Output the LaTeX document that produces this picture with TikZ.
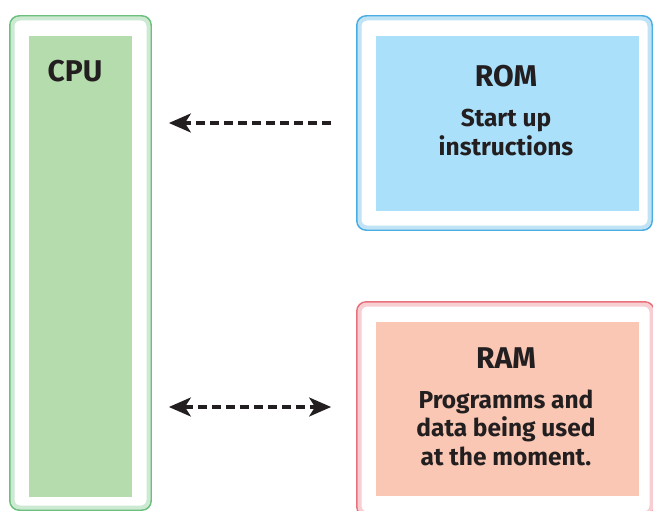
\documentclass[tikz,border=0pt]{standalone}
\usepackage{fontspec}
\setmainfont{Fira Sans}
\usepackage{tikz}
\usetikzlibrary{arrows.meta}

\definecolor{cpuline}{HTML}{6DBF7E}
\definecolor{cpufill}{HTML}{B5DCAD}
\definecolor{romline}{HTML}{4AAEE2}
\definecolor{romfill}{HTML}{AAE0FA}
\definecolor{ramline}{HTML}{E8727C}
\definecolor{ramfill}{HTML}{F9C7B3}
\definecolor{ink}{HTML}{231F20}

\tikzset{
	outerbox/.style={draw=#1, fill=white, line width=1.8pt, rounded corners=9pt, inner sep=0pt},
	glowring/.style={draw=#1!35, line width=4pt, rounded corners=7.5pt, inner sep=0pt},
	innerbox/.style={fill=#1, draw=none, inner sep=0pt},
	boxtext/.style={text=ink, font=\bfseries\fontsize{24.5}{28.5}\selectfont, align=center},
	boxtitle/.style={text=ink, font=\bfseries\fontsize{30}{32}\selectfont},
	busline/.style={ink, line width=3.2pt, dash pattern=on 9pt off 5pt},
	bustip/.tip={Stealth[length=22pt, width=19pt, inset=6pt]},
}

\begin{document}
\begin{tikzpicture}[x=1pt, y=-1pt]
	\useasboundingbox (0,0) rectangle (653,511);
	% CPU
	\node (cpu) [outerbox=cpuline, minimum width=141pt, minimum height=494pt] at (80.5,263) {};
	\node (cpuglow) [glowring=cpuline, minimum width=136pt, minimum height=489pt] at (cpu) {};
	\node (cpuin) [innerbox=cpufill, minimum width=103pt, minimum height=461pt] at (80.5,266.5) {};
	\node (cpulabel) [boxtitle] at (75,71) {CPU};
	% ROM
	\node (rom) [outerbox=romline, minimum width=295pt, minimum height=214pt] at (504.5,123) {};
	\node (romglow) [glowring=romline, minimum width=290pt, minimum height=209pt] at (rom) {};
	\node (romin) [innerbox=romfill, minimum width=263pt, minimum height=175pt] at (507.5,123.5) {};
	\node (romlabel) [boxtitle] at (506,76) {ROM};
	\node (romtext) [boxtext, anchor=base] at (506,155) {Start up\\instructions};
	% RAM
	\node (ram) [outerbox=ramline, minimum width=297pt, minimum height=214pt] at (505.5,409) {};
	\node (ramglow) [glowring=ramline, minimum width=292pt, minimum height=209pt] at (ram) {};
	\node (ramin) [innerbox=ramfill, minimum width=263pt, minimum height=174pt] at (507.5,409) {};
	\node (ramlabel) [boxtitle] at (506,358) {RAM};
	\node (ramtext) [boxtext, anchor=base] at (506,465) {Programms and\\data being used\\at the moment.};
	% buses
	\draw[busline, -bustip, shorten <=25pt, shorten >=17pt]
		(rom.west) -- (rom.west -| cpu.east);
	\draw[busline, bustip-bustip, shorten <=17pt, shorten >=25pt]
		([yshift=2pt]ramin.west -| cpu.east) -- ([yshift=2pt]ramin.west -| ram.west);
\end{tikzpicture}
\end{document}
